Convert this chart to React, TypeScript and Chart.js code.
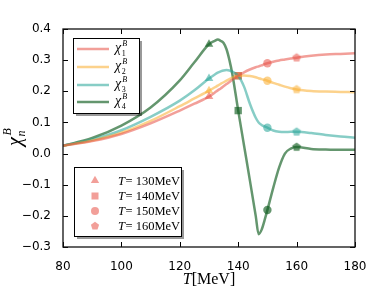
import { useEffect, useRef } from 'react';
import { Chart, registerables } from 'chart.js';

Chart.register(...registerables);

const TEMPS = [80, 90, 100, 110, 120, 125, 130, 132, 133, 134, 135, 136, 137, 138, 140, 142, 144, 146, 147, 148, 149, 150, 152, 154, 156, 158, 160, 165, 170, 175, 180];
const CHI1 = [0.025, 0.04, 0.063, 0.097, 0.138, 0.16, 0.183, 0.196, 0.203, 0.209, 0.216, 0.223, 0.23, 0.237, 0.25, 0.261, 0.27, 0.277, 0.28, 0.283, 0.287, 0.29, 0.295, 0.299, 0.302, 0.305, 0.308, 0.314, 0.318, 0.32, 0.322];
const CHI2 = [0.025, 0.042, 0.067, 0.105, 0.152, 0.177, 0.202, 0.213, 0.218, 0.224, 0.229, 0.234, 0.239, 0.244, 0.25, 0.251, 0.249, 0.245, 0.242, 0.239, 0.237, 0.234, 0.227, 0.221, 0.215, 0.21, 0.206, 0.201, 0.199, 0.198, 0.197];
const CHI3 = [0.025, 0.045, 0.075, 0.118, 0.17, 0.203, 0.241, 0.254, 0.26, 0.264, 0.267, 0.268, 0.267, 0.263, 0.25, 0.215, 0.16, 0.115, 0.1, 0.092, 0.087, 0.083, 0.074, 0.07, 0.069, 0.07, 0.07, 0.066, 0.06, 0.055, 0.051];
const CHI4 = [0.025, 0.05, 0.09, 0.148, 0.235, 0.293, 0.351, 0.362, 0.366, 0.362, 0.355, 0.335, 0.3, 0.255, 0.138, 0.026, -0.086, -0.2, -0.259, -0.245, -0.215, -0.181, -0.11, -0.045, 0, 0.016, 0.021, 0.015, 0.013, 0.012, 0.012];

const SERIES = [CHI1, CHI2, CHI3, CHI4];
const SERIES_SUBS = ['1', '2', '3', '4'];
const MARKER_TEMPS = [130, 140, 150, 160];
const MARKER_LABELS = ['130MeV', '140MeV', '150MeV', '160MeV'];
const X_TICKS = [80, 100, 120, 140, 160, 180];
const Y_TICKS = [-0.3, -0.2, -0.1, 0, 0.1, 0.2, 0.3, 0.4];

const COLORS = [
  'rgba(232,80,70,0.55)',
  'rgba(250,173,46,0.55)',
  'rgba(37,164,151,0.55)',
  'rgba(17,93,32,0.65)',
];

function pentagonCanvas(color: string, r: number) {
  const c = document.createElement('canvas');
  const s = Math.ceil(r * 2 + 2);
  c.width = s;
  c.height = s;
  const g = c.getContext('2d')!;
  g.fillStyle = color;
  g.beginPath();
  for (let i = 0; i < 5; i++) {
    const a = -Math.PI / 2 + (i * 2 * Math.PI) / 5;
    const px = s / 2 + r * Math.cos(a);
    const py = s / 2 + r * Math.sin(a);
    if (i === 0) g.moveTo(px, py);
    else g.lineTo(px, py);
  }
  g.closePath();
  g.fill();
  return c;
}

function drawMarker(ctx: CanvasRenderingContext2D, kind: number, x: number, y: number, color: string) {
  ctx.fillStyle = color;
  ctx.beginPath();
  if (kind === 0) {
    const r = 4.8;
    ctx.moveTo(x, y - r);
    ctx.lineTo(x + r * Math.cos(Math.PI / 6), y + r / 2);
    ctx.lineTo(x - r * Math.cos(Math.PI / 6), y + r / 2);
    ctx.closePath();
  } else if (kind === 1) {
    ctx.rect(x - 3.5, y - 3.5, 7, 7);
  } else if (kind === 2) {
    ctx.arc(x, y, 4, 0, Math.PI * 2);
  } else {
    const r = 4.3;
    for (let i = 0; i < 5; i++) {
      const a = -Math.PI / 2 + (i * 2 * Math.PI) / 5;
      const px = x + r * Math.cos(a);
      const py = y + r * Math.sin(a);
      if (i === 0) ctx.moveTo(px, py);
      else ctx.lineTo(px, py);
    }
    ctx.closePath();
  }
  ctx.fill();
}

function drawChi(ctx: CanvasRenderingContext2D, x: number, y: number, sub: string, size: number, scr: number) {
  ctx.textAlign = 'left';
  ctx.textBaseline = 'alphabetic';
  ctx.font = `italic ${size}px "Liberation Serif"`;
  ctx.fillText('χ', x, y);
  const w = ctx.measureText('χ').width;
  ctx.font = `${scr}px "Liberation Serif"`;
  ctx.fillText(sub, x + w + 0.5, y + size * 0.25);
  ctx.font = `italic ${scr}px "Liberation Serif"`;
  ctx.fillText('B', x + w + 1, y - size * 0.45);
}

const overlay = {
  id: 'overlay',
  afterDraw(chart: any) {
    const { ctx, chartArea: a, scales } = chart;
    const xs = scales.x;
    const ys = scales.y;
    ctx.save();
    // inward ticks on all sides
    ctx.strokeStyle = '#000';
    ctx.lineWidth = 1;
    ctx.beginPath();
    for (const t of X_TICKS) {
      const px = Math.round(xs.getPixelForValue(t)) + 0.5;
      ctx.moveTo(px, a.bottom);
      ctx.lineTo(px, a.bottom - 5);
      ctx.moveTo(px, a.top);
      ctx.lineTo(px, a.top + 5);
    }
    for (const v of Y_TICKS) {
      const py = Math.round(ys.getPixelForValue(v)) + 0.5;
      ctx.moveTo(a.left, py);
      ctx.lineTo(a.left + 5, py);
      ctx.moveTo(a.right, py);
      ctx.lineTo(a.right - 5, py);
    }
    ctx.stroke();
    // frame
    ctx.lineWidth = 1.3;
    ctx.strokeStyle = '#111';
    ctx.strokeRect(a.left, a.top, a.right - a.left, a.bottom - a.top);

    // legend 1
    const l1 = { x: 73, y: 38, w: 66, h: 75 };
    ctx.fillStyle = 'rgba(0,0,0,0.4)';
    ctx.fillRect(l1.x + 3, l1.y + 3, l1.w, l1.h);
    ctx.fillStyle = '#fff';
    ctx.fillRect(l1.x, l1.y, l1.w, l1.h);
    ctx.lineWidth = 1;
    ctx.strokeStyle = '#000';
    ctx.strokeRect(l1.x + 0.5, l1.y + 0.5, l1.w, l1.h);
    const rows1 = [49, 67, 85, 102];
    rows1.forEach((ry, i) => {
      ctx.strokeStyle = COLORS[i];
      ctx.lineWidth = 2.5;
      ctx.beginPath();
      ctx.moveTo(77, ry);
      ctx.lineTo(109, ry);
      ctx.stroke();
      ctx.fillStyle = '#000';
      drawChi(ctx, 115, ry + 3, SERIES_SUBS[i], 14, 8);
    });

    // legend 2
    const l2 = { x: 74, y: 167, w: 107, h: 69 };
    ctx.fillStyle = 'rgba(0,0,0,0.4)';
    ctx.fillRect(l2.x + 3, l2.y + 3, l2.w, l2.h);
    ctx.fillStyle = '#fff';
    ctx.fillRect(l2.x, l2.y, l2.w, l2.h);
    ctx.lineWidth = 1;
    ctx.strokeStyle = '#000';
    ctx.strokeRect(l2.x + 0.5, l2.y + 0.5, l2.w, l2.h);
    const rows2 = [180.5, 196, 211, 226];
    rows2.forEach((ry, i) => {
      drawMarker(ctx, i, 95, ry, COLORS[0]);
      ctx.fillStyle = '#000';
      ctx.textAlign = 'left';
      ctx.textBaseline = 'alphabetic';
      ctx.font = 'italic 12.5px "Liberation Serif"';
      ctx.fillText('T', 118, ry + 4);
      const tw = ctx.measureText('T').width;
      ctx.font = '12.5px "Liberation Serif"';
      ctx.fillText('= ' + MARKER_LABELS[i], 118 + tw + 0.5, ry + 4);
    });

    // x title
    ctx.fillStyle = '#000';
    ctx.textBaseline = 'alphabetic';
    ctx.textAlign = 'left';
    ctx.font = 'italic 16px "Liberation Serif"';
    const tW = ctx.measureText('T').width;
    ctx.font = '16px "Liberation Serif"';
    const mW = ctx.measureText('[MeV]').width;
    const cx = (a.left + a.right) / 2;
    const sx = cx - (tW + mW) / 2;
    ctx.font = 'italic 16px "Liberation Serif"';
    ctx.fillText('T', sx, 284);
    ctx.font = '16px "Liberation Serif"';
    ctx.fillText('[MeV]', sx + tW, 284);

    // y title
    ctx.save();
    ctx.translate(21, (a.top + a.bottom) / 2);
    ctx.rotate(-Math.PI / 2);
    ctx.font = 'italic 20px "Liberation Serif"';
    const cw = ctx.measureText('χ').width;
    const x0 = -(cw + 7) / 2;
    ctx.fillText('χ', x0, 0);
    ctx.font = 'italic 12px "Liberation Serif"';
    ctx.fillText('n', x0 + cw + 0.5, 4);
    ctx.fillText('B', x0 + cw + 1.5, -10);
    ctx.restore();

    ctx.restore();
  },
};

export default function App() {
  const ref = useRef<HTMLCanvasElement | null>(null);
  useEffect(() => {
    const canvas = ref.current!;
    const curveSets = SERIES.map((arr, i) => ({
      type: 'line',
      data: TEMPS.map((t, j) => ({ x: t, y: arr[j] })),
      borderColor: COLORS[i],
      borderWidth: 2.5,
      pointRadius: 0,
      cubicInterpolationMode: 'monotone',
      fill: false,
    }));
    const markerSets = SERIES.map((arr, i) => ({
      type: 'line',
      data: MARKER_TEMPS.map((t) => ({ x: t, y: arr[TEMPS.indexOf(t)] })),
      showLine: false,
      backgroundColor: COLORS[i],
      borderColor: COLORS[i],
      borderWidth: 0,
      pointStyle: ['triangle', 'rect', 'circle', pentagonCanvas(COLORS[i], 4.6)],
      pointRadius: [5, 5.2, 4.2, 4.6],
    }));
    const chart = new Chart(canvas, {
      type: 'line',
      data: { datasets: [...curveSets, ...markerSets] as any },
      options: {
        animation: false,
        responsive: false,
        devicePixelRatio: 1,
        layout: { padding: { top: 29, right: 19, left: 0, bottom: 0 } },
        plugins: { legend: { display: false }, tooltip: { enabled: false } },
        scales: {
          x: {
            type: 'linear',
            min: 80,
            max: 180,
            afterBuildTicks: (s: any) => {
              s.ticks = X_TICKS.map((v) => ({ value: v }));
            },
            afterFit: (s: any) => {
              s.height = 44;
            },
            grid: { display: false },
            border: { display: false },
            ticks: {
              autoSkip: false,
              maxRotation: 0,
              padding: 5,
              color: '#000',
              font: { family: 'DejaVu Sans', size: 12 },
              callback: (v: any) => String(v),
            },
          },
          y: {
            type: 'linear',
            min: -0.3,
            max: 0.4,
            afterBuildTicks: (s: any) => {
              s.ticks = Y_TICKS.map((v) => ({ value: v }));
            },
            afterFit: (s: any) => {
              s.width = 63;
            },
            grid: { display: false },
            border: { display: false },
            ticks: {
              autoSkip: false,
              padding: 4,
              color: '#000',
              font: { family: 'DejaVu Sans', size: 12 },
              callback: (v: any) => {
                const n = Number(v);
                if (Math.abs(n) < 1e-9) return '0.0';
                return n.toFixed(1).replace('-', '\u2212');
              },
            },
          },
        },
      } as any,
      plugins: [overlay],
    });
    return () => chart.destroy();
  }, []);
  return (
    <div style={{ position: 'absolute', left: 0, top: 0, width: 374, height: 291, background: '#fff' }}>
      <canvas ref={ref} width={374} height={291} style={{ display: 'block', width: 374, height: 291 }} />
    </div>
  );
}
